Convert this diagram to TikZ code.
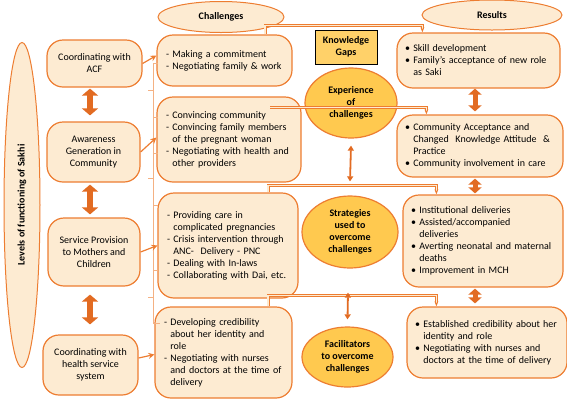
\documentclass[tikz,border=0pt]{standalone}
\usepackage{fontspec}
\setmainfont{Carlito}
\usetikzlibrary{arrows.meta, positioning, shapes.geometric, calc}
\definecolor{AccentO}{HTML}{ED7D31}
\definecolor{PeachFill}{HTML}{FDEBD2}
\definecolor{GoldFill}{HTML}{FFC94F}
\definecolor{ArrowO}{HTML}{E26B22}
\definecolor{BraceO}{HTML}{F4B183}
\newcommand{\dsh}{-\ }
\newcommand{\dind}{\phantom{-\ }}
\newcommand{\rbul}{\textbullet\ }
\newcommand{\rind}{\phantom{\textbullet\ }}
\tikzset{
  lbox/.style={draw=AccentO, line width=1.2pt, rounded corners=16pt, fill=PeachFill,
    align=center, inner sep=2pt},
  chbox/.style={lbox, align=left, inner xsep=9pt},
  hell/.style={ellipse, draw=AccentO, line width=1pt, fill=PeachFill, font=\bfseries,
    inner sep=0pt},
  gell/.style={ellipse, draw=AccentO, line width=1.2pt, fill=GoldFill, font=\bfseries,
    align=center, inner sep=0pt},
  kgap/.style={draw=black, line width=0.8pt, fill=GoldFill!85, font=\bfseries, align=center},
  fat/.style={{Triangle[length=7pt,width=16pt]}-{Triangle[length=7pt,width=16pt]},
    line width=6pt, draw=ArrowO},
  fatr/.style={{Triangle[length=6pt,width=13pt]}-{Triangle[length=6pt,width=13pt]},
    line width=5pt, draw=ArrowO},
  flowq/.style={-{Stealth[length=6pt,width=6pt]}, line width=1.2pt, draw=AccentO},
  flowe/.style={{Triangle[length=5pt,width=6pt]}-{Triangle[length=5pt,width=6pt]},
    line width=1.8pt, draw=ArrowO},
  dflow/.style={draw=AccentO, double=PeachFill, line width=0.9pt, double distance=1.2pt,
    -{Stealth[length=5pt]}},
}
\begin{document}
\begin{tikzpicture}[x=1pt, y=-1pt]
    \useasboundingbox (0,0) rectangle (567,400);
    % levels
    \node[hell, rotate=90, minimum width=325pt, minimum height=36pt] (lev) at (22,205)
      {Levels of functioning of Sakhi};
    \node[lbox, minimum width=95pt, minimum height=47pt] (L1) at (94.5,63.5)
      {Coordinating with\\ACF};
    \node[lbox, minimum width=93pt, minimum height=60pt] (L2) at (93.5,152)
      {Awareness\\Generation in\\Community};
    \node[lbox, minimum width=92pt, minimum height=68pt] (L3) at (94,252)
      {Service Provision\\to Mothers and\\Children};
    \node[lbox, minimum width=95pt, minimum height=60pt] (L4) at (90.5,365)
      {Coordinating with\\health service\\system};
    % challenges
    \node[hell, minimum width=126pt, minimum height=31pt] (chal) at (221,17) {Challenges};
    \node[chbox, text width=117pt, minimum height=51pt] (C1) at (224.5,60.5)
      {\dsh Making a commitment\\\dsh Negotiating family \& work};
    \node[chbox, text width=126pt, minimum height=85pt] (C2) at (229,139.5)
      {\dsh Convincing community\\\dsh Convincing family members\\\dind of the pregnant woman\\
       \dsh Negotiating with health and\\\dind other providers};
    \node[chbox, text width=122pt, minimum height=105pt] (C3) at (228,245.5)
      {\dsh Providing care in\\\dind complicated pregnancies\\\dsh Crisis intervention through\\
       \dind ANC-\ \ Delivery - PNC\\\dsh Dealing with In-laws\\\dsh Collaborating with Dai, etc.};
    \node[chbox, text width=119pt, minimum height=91pt] (C4) at (223.5,352.5)
      {\dsh Developing credibility\\\dind about her identity and\\\dind role\\
       \dsh Negotiating with nurses\\\dind and doctors at the time of\\\dind delivery};
    % middle
    \node[kgap, minimum width=62pt, minimum height=34pt] (KG) at (346,47) {Knowledge\\Gaps};
    \node[gell, minimum width=92pt, minimum height=70pt] (E) at (351,103)
      {Experience\\of\\challenges};
    \node[gell, minimum width=96pt, minimum height=72pt] (S) at (350,232)
      {Strategies\\used to\\overcome\\challenges};
    \node[gell, minimum width=91pt, minimum height=60pt] (F) at (347.5,357)
      {Facilitators\\to overcome\\challenges};
    % results
    \node[hell, minimum width=140pt, minimum height=30pt] (res) at (492,15) {Results};
    \node[chbox, inner xsep=8pt, text width=147pt, minimum height=55pt] (R1) at (478.5,60.5)
      {\rbul Skill development\\\rbul Family’s acceptance of new role\\\rind as Saki};
    \node[chbox, inner xsep=8pt, text width=150pt, minimum height=62pt] (R2) at (480,146)
      {\rbul Community Acceptance and\\\rind Changed\ \ Knowledge Attitude\ \ \&\\\rind Practice\\
       \rbul Community involvement in care};
    \node[chbox, inner xsep=8pt, text width=144pt, minimum height=92pt] (R3) at (483,241)
      {\rbul Institutional deliveries\\\rbul Assisted/accompanied\\\rind deliveries\\
       \rbul Averting neonatal and maternal\\\rind deaths\\\rbul Improvement in MCH};
    \node[chbox, inner xsep=8pt, text width=144pt, minimum height=71pt] (R4) at (487,342.5)
      {\rbul Established credibility about her\\\rind identity and role\\
       \rbul Negotiating with nurses and\\\rind doctors at the time of delivery};
    % brace
    \draw[BraceO, line width=0.8pt] (158,63) -- (153,63) -- (153,323) -- (160,323);
    \foreach \y in {117,153,205,270} \draw[BraceO, line width=0.8pt] (153,\y) -- (158,\y);
    \foreach \y in {90,178,297} \draw[BraceO, line width=0.8pt] (153,\y) -- (148,\y);
    % level arrows
    \draw[fat] ([xshift=-4.5pt,yshift=-1pt]L1.south) -- ([xshift=-4.5pt,yshift=6pt]L1.south |- L2.north);
    \draw[fat] ([xshift=-3.5pt,yshift=-2pt]L2.south) -- ([xshift=-3.5pt,yshift=3pt]L2.south |- L3.north);
    \draw[fat] ([xshift=-4pt,yshift=-8pt]L3.south) -- ([xshift=-4pt,yshift=10pt]L3.south |- L4.north);
    \draw[flowq] (L1.east) -- ([yshift=5pt]C1.west);
    \draw[flowq] (L2.east) -- ([yshift=2pt]C2.west);
    \draw[flowq] (L3.east) -- (C3.west);
    \draw[flowq] ([yshift=7pt]L4.east) -- ([yshift=-2pt]C4.west);
    % challenges to results
    \draw[dflow] ([xshift=40.5pt]C1.north) -- ++(0,-9) -| ([xshift=26pt]R1.north west);
    \draw[dflow] ([xshift=41pt,yshift=32pt]C2.center) -| ([xshift=30pt]R2.north west);
    \draw[dflow] ([xshift=40pt]C3.north) -- ++(0,-7) -| ([xshift=34pt]R3.north west);
    \draw[dflow] ([xshift=44.5pt]C4.north) -- ++(0,-11) -| ([xshift=30pt]R4.north west);
    \draw[flowe] ([yshift=-7pt]E.south) -- ([yshift=14pt]S.north);
    \draw[flowe] ([xshift=-2pt,yshift=-24pt]S.south) -- ([yshift=7pt]F.north);
    % result arrows
    \draw[fatr] ([xshift=-3.5pt]R1.south) -- ([xshift=-3.5pt,yshift=3pt]R1.south |- R2.north);
    \draw[fatr] ([xshift=-5pt,yshift=-1pt]R2.south) -- ([xshift=-5pt,yshift=1pt]R2.south |- R3.north);
    \draw[fatr] ([xshift=-8pt,yshift=-1pt]R3.south) -- ([xshift=-8pt,yshift=3pt]R3.south |- R4.north);
\end{tikzpicture}
\end{document}
